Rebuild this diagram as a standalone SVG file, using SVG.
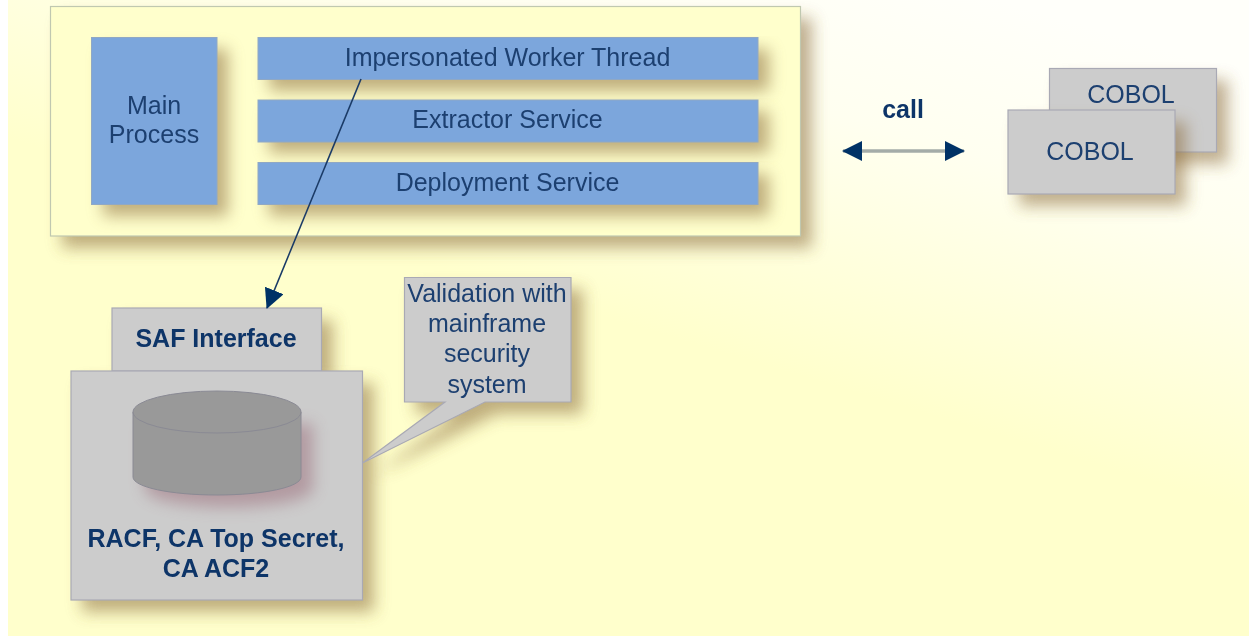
<svg xmlns="http://www.w3.org/2000/svg" width="1249" height="636" viewBox="0 0 1249 636">
<style>
.t{font-family:"Liberation Sans",Arial,sans-serif;font-size:25px;fill:#1d3f70;text-anchor:middle}
.b{font-weight:bold;fill:#0f3468}
.blue{fill:#7ca6dc;stroke:#90a8c4;stroke-width:1}
.grey{fill:#cccccc;stroke:#a9a9b4;stroke-width:1.200}
.con{fill:none;stroke:#1a3a66;stroke-width:1.600}
.sh{fill:#8c6d3c;opacity:.55;filter:url(#sh)}
</style>
<defs>
<linearGradient id="bg" gradientUnits="userSpaceOnUse" x1="1000" y1="0" x2="850" y2="500"><stop offset="0" stop-color="#fffffa"/><stop offset=".3" stop-color="#fffff0"/><stop offset=".8" stop-color="#ffffcc"/><stop offset="1" stop-color="#ffffcc"/></linearGradient>
<filter id="sh" x="-30%" y="-30%" width="170%" height="170%"><feGaussianBlur stdDeviation="8"/></filter>
<filter id="soft" filterUnits="userSpaceOnUse" x="0" y="0" width="1249" height="636"><feGaussianBlur stdDeviation="0.5"/></filter>
<marker id="ah" markerUnits="userSpaceOnUse" markerWidth="22" markerHeight="22" refX="19" refY="10" orient="auto-start-reverse"><path d="M0 0L20 10L0 20Z" fill="#003366"/></marker>
</defs>
<rect width="1249" height="636" fill="#ffffff"/>
<rect x="8" width="1241" height="636" fill="url(#bg)"/>
<g filter="url(#soft)">
<g id="shadows-outer">
<rect class="sh" x="62" y="18" width="750" height="230"/>
<rect class="sh" x="1061" y="80" width="167" height="84"/>
<rect class="sh" x="124" y="320" width="209" height="62"/>
<rect class="sh" x="82" y="383" width="292" height="229"/>
<path class="sh" d="M416 289H583V414H497L374 475L457 414H416Z"/>
</g>
<g id="container"><rect x="50.500" y="6.500" width="750" height="229.500" fill="#ffffcc" stroke="#c0c8b0" stroke-width="1.200"/></g>
<g id="shadows-inner">
<rect class="sh" x="103" y="49" width="125" height="167"/>
<rect class="sh" x="269" y="49" width="500" height="42"/>
<rect class="sh" x="269" y="111" width="500" height="42"/>
<rect class="sh" x="269" y="174" width="500" height="42"/>
</g>
<g id="main-process"><rect class="blue" x="91.500" y="37.500" width="125.500" height="167"/><text class="t" x="154" y="114">Main</text><text class="t" x="154" y="143">Process</text></g>
<g id="worker-thread"><rect class="blue" x="258" y="37.500" width="500" height="42"/><text class="t" x="507.500" y="66">Impersonated Worker Thread</text></g>
<g id="extractor-service"><rect class="blue" x="258" y="100" width="500" height="42"/><text class="t" x="507.500" y="128">Extractor Service</text></g>
<g id="deployment-service"><rect class="blue" x="258" y="162.500" width="500" height="42"/><text class="t" x="507.500" y="190.500">Deployment Service</text></g>
<g id="cobol-back"><rect class="grey" x="1049.500" y="68.500" width="167" height="83.500"/><text class="t" x="1131" y="103">COBOL</text></g>
<rect class="sh" x="1019" y="122" width="167" height="84"/>
<g id="cobol-front"><rect class="grey" x="1008" y="110" width="167" height="84"/><text class="t" x="1090" y="160">COBOL</text></g>
<g id="saf-interface"><rect class="grey" x="112" y="308" width="209.500" height="63"/><text class="t b" x="216" y="347">SAF Interface</text></g>
<g id="security-system"><rect class="grey" x="71" y="371" width="291.500" height="229"/>
<path d="M145 424V489C145 499 182 507 229 507C276 507 313 499 313 489V424Z" fill="#8c5060" opacity=".4" filter="url(#sh)"/>
<path d="M133 412V477C133 487 170 495 217 495C264 495 301 487 301 477V412Z" fill="#999" stroke="#8a8a94"/>
<ellipse cx="217" cy="412" rx="84" ry="21" fill="#999" stroke="#8a8a94"/>
<text class="t b" x="216" y="547">RACF, CA Top Secret,</text><text class="t b" x="216" y="577">CA ACF2</text></g>
<g id="callout"><path d="M404.500 277.500H571V402H485L362.500 463L445 402H404.500Z" fill="#ccc" stroke="#a9a9b4" stroke-width="1.200"/>
<text class="t" x="487" y="302">Validation with</text><text class="t" x="487" y="332">mainframe</text><text class="t" x="487" y="362">security</text><text class="t" x="487" y="393">system</text></g>
<g id="connectors">
<line class="con" x1="361" y1="79" x2="267" y2="308" marker-end="url(#ah)"/>
<line x1="843" y1="151" x2="964" y2="151" stroke="#a4aca8" stroke-width="3.500" marker-start="url(#ah)" marker-end="url(#ah)"/>
</g>
<text id="call-label" class="t b" x="903" y="118">call</text>
</g>
</svg>
